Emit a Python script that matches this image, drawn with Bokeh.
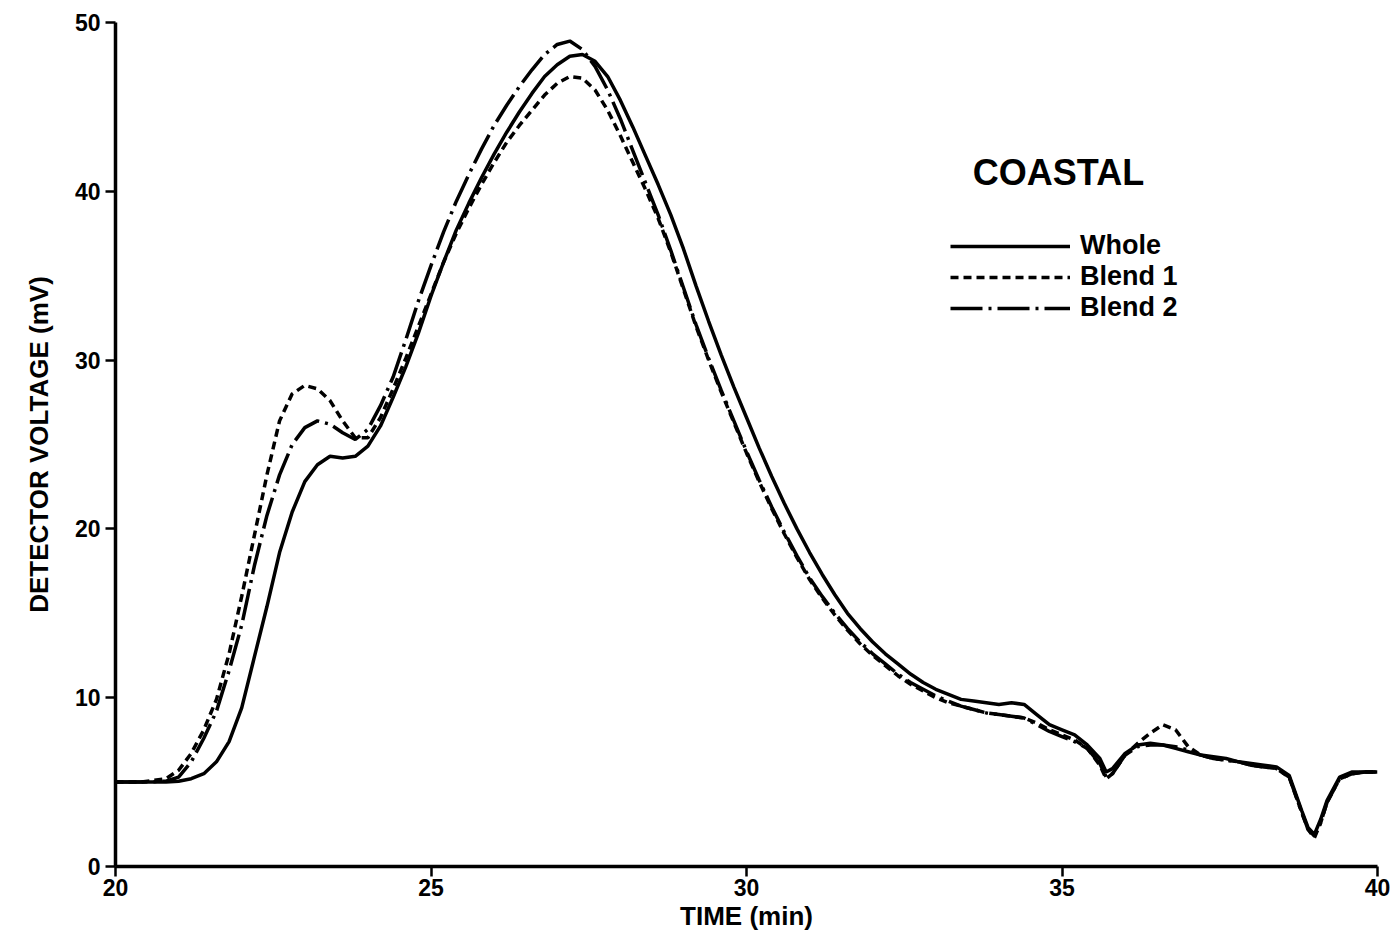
from bokeh.plotting import figure
from bokeh.models import Range1d, FixedTicker, Legend, LegendItem, Label
from bokeh.embed import file_html
from bokeh.resources import INLINE

# ---- data ----
time_min = [20.0, 20.4, 20.8, 21.0, 21.2, 21.4, 21.6, 21.8, 22.0, 22.2, 22.4, 22.6, 22.8, 23.0, 23.2, 23.4, 23.6, 23.8, 24.0,
            24.2, 24.4, 24.6, 24.8, 25.0, 25.2, 25.4, 25.6, 25.8, 26.0, 26.2, 26.4, 26.6, 26.8, 27.0, 27.2, 27.4, 27.6, 27.8, 28.0,
            28.2, 28.4, 28.6, 28.8, 29.0, 29.2, 29.4, 29.6, 29.8, 30.0, 30.2, 30.4, 30.6, 30.8, 31.0, 31.2, 31.4, 31.6, 31.8, 32.0,
            32.2, 32.4, 32.6, 32.8, 33.0, 33.2, 33.4, 33.6, 33.8, 34.0, 34.2, 34.4, 34.6, 34.8, 35.0, 35.2, 35.4, 35.6,
            35.7, 35.8, 36.0, 36.2, 36.4, 36.6, 36.8, 37.0, 37.2, 37.4, 37.6, 37.8, 38.0, 38.2, 38.4, 38.6,
            38.8, 38.9, 39.0, 39.1, 39.2, 39.4, 39.6, 39.8, 40.0]

whole = [5.0, 5.0, 5.0, 5.05, 5.2, 5.5, 6.2, 7.4, 9.4, 12.4, 15.4, 18.6, 21.0, 22.8, 23.8, 24.3, 24.2, 24.3, 24.9,
         26.1, 27.8, 29.6, 31.6, 33.8, 35.8, 37.7, 39.3, 40.8, 42.2, 43.5, 44.7, 45.8, 46.8, 47.5, 48.0, 48.1, 47.7, 46.8, 45.4,
         43.8, 42.1, 40.4, 38.6, 36.6, 34.4, 32.3, 30.3, 28.4, 26.6, 24.8, 23.1, 21.5, 20.0, 18.6, 17.3, 16.1, 15.0, 14.1, 13.3,
         12.6, 12.0, 11.4, 10.9, 10.5, 10.2, 9.9, 9.8, 9.7, 9.6, 9.7, 9.6, 9.0, 8.4, 8.1, 7.8, 7.2, 6.4,
         5.6, 5.8, 6.7, 7.2, 7.3, 7.2, 7.0, 6.8, 6.6, 6.5, 6.4, 6.2, 6.1, 6.0, 5.9, 5.4,
         3.3, 2.3, 1.9, 2.8, 3.9, 5.3, 5.6, 5.6, 5.6]

blend1 = [5.0, 5.0, 5.2, 5.7, 6.7, 8.1, 9.9, 12.6, 16.0, 19.6, 23.2, 26.4, 28.0, 28.5, 28.3, 27.6, 26.4, 25.4, 25.4,
          26.6, 28.3, 30.1, 32.0, 33.9, 35.8, 37.5, 39.0, 40.4, 41.7, 42.9, 43.9, 44.8, 45.7, 46.4, 46.8, 46.7, 46.0, 44.8, 43.3,
          41.7, 40.1, 38.4, 36.4, 34.2, 32.0, 30.0, 28.1, 26.3, 24.5, 22.8, 21.2, 19.7, 18.3, 17.0, 15.9, 14.9, 14.0, 13.2, 12.5,
          11.9, 11.3, 10.8, 10.4, 10.0, 9.7, 9.5, 9.3, 9.1, 9.0, 8.9, 8.8, 8.5, 8.1, 7.8, 7.5, 7.0, 6.0,
          5.2, 5.5, 6.6, 7.3, 7.9, 8.4, 8.1, 7.1, 6.6, 6.4, 6.3, 6.2, 6.0, 5.9, 5.8, 5.3,
          3.2, 2.2, 1.7, 2.6, 3.8, 5.2, 5.5, 5.6, 5.6]

blend2 = [5.0, 5.0, 5.05, 5.3, 6.2, 7.6, 9.2, 11.6, 14.3, 17.8, 20.8, 23.2, 25.0, 26.0, 26.4, 26.2, 25.7, 25.3, 25.9,
          27.3, 29.0, 31.2, 33.5, 35.6, 37.6, 39.4, 41.0, 42.5, 43.9, 45.1, 46.2, 47.2, 48.1, 48.7, 48.9, 48.4, 47.4, 46.0, 44.3,
          42.4, 40.5, 38.6, 36.5, 34.3, 32.1, 30.1, 28.2, 26.4, 24.6, 22.9, 21.3, 19.8, 18.4, 17.1, 16.0, 15.0, 14.1, 13.3, 12.6,
          12.0, 11.4, 10.9, 10.5, 10.1, 9.8, 9.5, 9.3, 9.1, 9.0, 8.9, 8.8, 8.4, 8.0, 7.7, 7.4, 7.0, 6.1,
          5.3, 5.5, 6.6, 7.1, 7.2, 7.2, 7.1, 6.9, 6.6, 6.4, 6.3, 6.2, 6.0, 5.9, 5.8, 5.3,
          3.2, 2.2, 1.8, 2.6, 3.8, 5.2, 5.5, 5.6, 5.6]

series_names = ["Whole", "Blend 1", "Blend 2"]
x_ticks = [20, 25, 30, 35, 40]
y_ticks = [0, 10, 20, 30, 40, 50]
title_text = "COASTAL"

assert len(time_min) == len(whole) == len(blend1) == len(blend2)

FONT = "Liberation Sans"

p = figure(width=1392, height=936, output_backend="svg", toolbar_location=None,
           x_range=Range1d(20, 40), y_range=Range1d(0, 50),
           min_border_left=115, min_border_right=15, min_border_top=22, min_border_bottom=70)
p.outline_line_color = None
p.xgrid.visible = False
p.ygrid.visible = False
p.background_fill_color = "white"
p.border_fill_color = "white"

for ax in (p.xaxis[0], p.yaxis[0]):
    ax.axis_line_width = 3.5
    ax.axis_line_color = "black"
    ax.major_tick_line_width = 2.5
    ax.major_tick_line_color = "black"
    ax.major_tick_in = 0
    ax.major_tick_out = 10
    ax.minor_tick_line_color = None
    ax.major_label_text_font = FONT
    ax.major_label_text_font_style = "bold"
    ax.major_label_text_font_size = "23px"
    ax.major_label_text_color = "black"
    ax.axis_label_text_font = FONT
    ax.axis_label_text_font_style = "bold"
    ax.axis_label_text_font_size = "26px"
    ax.axis_label_text_color = "black"

p.xaxis.ticker = FixedTicker(ticks=x_ticks)
p.yaxis.ticker = FixedTicker(ticks=y_ticks)
p.xaxis.axis_label = "TIME (min)"
p.yaxis.axis_label = "DETECTOR VOLTAGE (mV)"
p.xaxis.major_label_standoff = 2
p.yaxis.major_label_standoff = 5
p.xaxis.axis_label_standoff = 2
p.yaxis.axis_label_standoff = 18

r_whole = p.line(time_min, whole, line_color="black", line_width=3.5)
r_b1 = p.line(time_min, blend1, line_color="black", line_width=3.5, line_dash="8 5")
r_b2 = p.line(time_min, blend2, line_color="black", line_width=3.5, line_dash="32 6 3 6")

legend = Legend(items=[LegendItem(label=series_names[0], renderers=[r_whole]),
                       LegendItem(label=series_names[1], renderers=[r_b1]),
                       LegendItem(label=series_names[2], renderers=[r_b2])],
                location=(835, 543), orientation="vertical",
                glyph_width=120, glyph_height=30, label_height=30, spacing=0,
                padding=0, margin=0, label_standoff=10,
                label_text_font=FONT, label_text_font_style="bold",
                label_text_font_size="27px", label_text_color="black",
                border_line_alpha=0, background_fill_alpha=0)
p.add_layout(legend, "center")

p.add_layout(Label(x=1058 - 115, y=866 - 172, x_units="screen", y_units="screen",
                   text=title_text, text_font=FONT, text_font_style="bold",
                   text_font_size="36px", text_color="black",
                   text_align="center", text_baseline="middle"))

open("out.html", "w").write(file_html(p, INLINE))
